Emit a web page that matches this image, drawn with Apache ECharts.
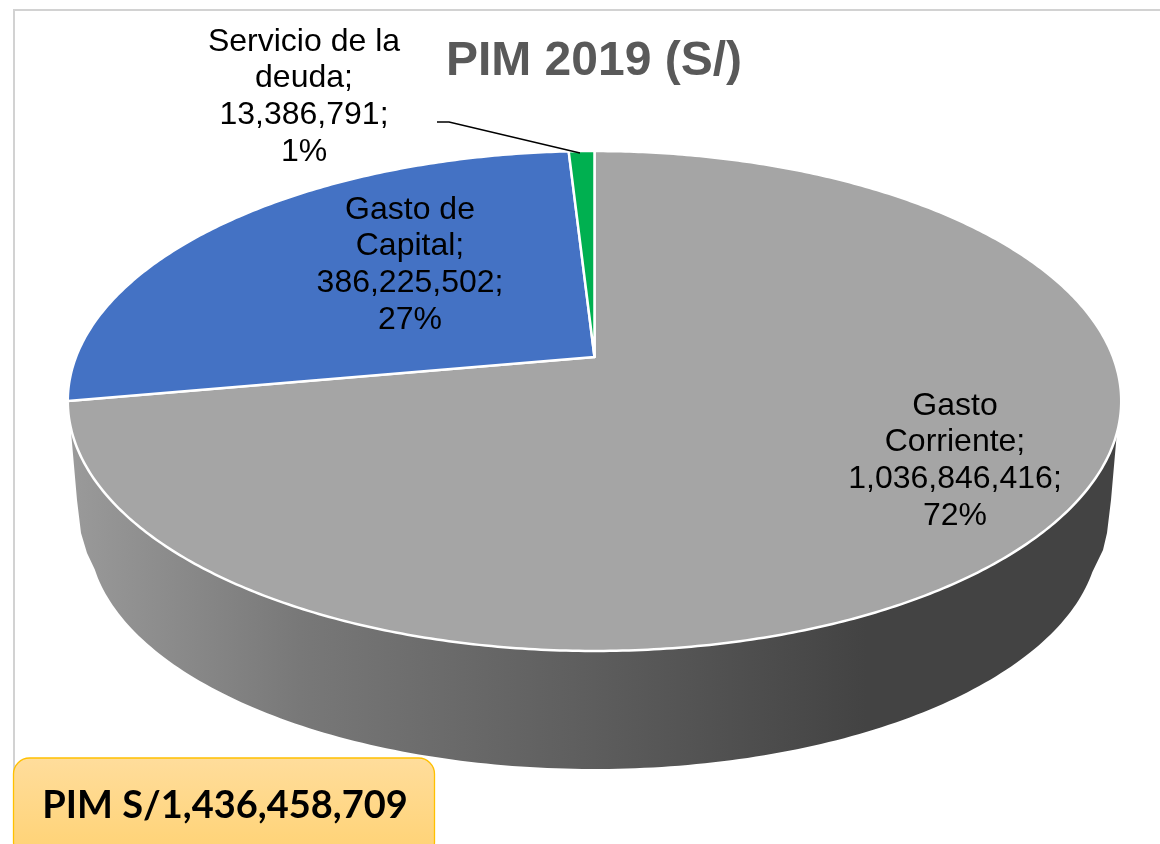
<!DOCTYPE html>
<html><head><meta charset="utf-8">
<style>html,body{margin:0;padding:0;background:#fff}#c{width:1160px;height:844px}</style>
<script src="https://cdn.jsdelivr.net/npm/echarts@6/dist/echarts.min.js"></script>
</head><body><div id="c"></div>
<script>
const categories = ['Gasto Corriente', 'Gasto de Capital', 'Servicio de la deuda'];
const seriesValues = [1036846416, 386225502, 13386791];
const categoryLines = [['Gasto', 'Corriente;'], ['Gasto de', 'Capital;'], ['Servicio de la', 'deuda;']];
const sliceColors = ['#a5a5a5', '#4472c4', '#00b050'];
const titleText = 'PIM 2019 (S/)';
const boxText = 'PIM S/1,436,458,709';

// layout only
const labelCentres = [[955, 461], [410, 265], [304, 97]];
const P = {cx: 594.5, cy: 357, A: 518.5, B: 242.2, k: 0.176};
const BOT = {cx: 594, cy: 534, rx: 505, ry: 235};

function proj(theta) {
  const u = Math.sin(theta), v = Math.cos(theta), d = 1 + P.k * v;
  return [P.cx + P.A * u / d, P.cy - P.B * v / d];
}
const total = seriesValues.reduce((a, b) => a + b, 0);

function renderSlice(params) {
  const i = params.dataIndex;
  let before = 0;
  for (let j = 0; j < i; j++) before += seriesValues[j];
  const a0 = before / total * 2 * Math.PI, a1 = (before + seriesValues[i]) / total * 2 * Math.PI;
  const pts = [[P.cx, P.cy]];
  const n = Math.max(4, Math.ceil((a1 - a0) / 0.01));
  for (let s = 0; s <= n; s++) pts.push(proj(a0 + (a1 - a0) * s / n));
  const text = categoryLines[i].concat([seriesValues[i].toLocaleString('en-US') + ';', Math.round(seriesValues[i] / total * 100) + '%']).join('\n');
  return {type: 'group', children: [
    {type: 'polygon', shape: {points: pts}, z2: 1,
     style: {fill: sliceColors[i], stroke: '#fff', lineWidth: 2.5, lineJoin: 'round'}},
    {type: 'text', z2: 5, style: {text, x: labelCentres[i][0], y: labelCentres[i][1], align: 'center', verticalAlign: 'middle',
      font: '32px "Liberation Sans"', lineHeight: 36.7, fill: '#000'}}
  ]};
}
function renderSide() {
  const pts = [[70, 420], [77, 500], [81, 533], [87, 553]];
  for (let s = 8.7; s <= 171.3; s += 1) {
    const t = Math.PI - s * Math.PI / 180;
    pts.push([BOT.cx + BOT.rx * Math.cos(t), BOT.cy + BOT.ry * Math.sin(t)]);
  }
  pts.push([1103, 550], [1107, 533], [1111, 500], [1118, 420]);
  return {type: 'polygon', shape: {points: pts}, style: {
    fill: new echarts.graphic.LinearGradient(0, 0, 1, 0, [
      {offset: 0, color: '#9a9a9a'},
      {offset: 0.22, color: '#787878'},
      {offset: 0.5, color: '#5d5d5d'},
      {offset: 0.76, color: '#434343'},
      {offset: 1, color: '#434343'}
    ])}};
}

const chart = echarts.init(document.getElementById('c'), null, {renderer: 'canvas'});
chart.setOption({
  animation: false,
  backgroundColor: '#fff',
  title: {text: titleText, left: 589, top: 33, textAlign: 'center',
    textStyle: {fontFamily: 'Liberation Sans', fontWeight: 'bold', fontSize: 48, color: '#595959'}},
  series: [
    {type: 'custom', coordinateSystem: 'none', data: [0], renderItem: renderSide, silent: true, z: 1},
    {type: 'custom', coordinateSystem: 'none', data: categories.map((c, i) => ({name: c, value: seriesValues[i]})),
      renderItem: renderSlice, silent: true, z: 2}
  ],
  graphic: [
    {type: 'polyline', z: 0, silent: true, shape: {points: [[14, 844], [14, 10], [1160, 10]]},
      style: {stroke: '#d2d2d2', lineWidth: 2, fill: null}},
    {type: 'polyline', z: 10, silent: true, shape: {points: [[437, 122], [449, 122], [580, 153]]},
      style: {stroke: '#000', lineWidth: 1.3, fill: null}},
    {type: 'rect', z: 11, silent: true, shape: {x: 13.5, y: 758, width: 421, height: 100, r: 16},
      style: {stroke: '#ffc000', lineWidth: 1.3,
        fill: new echarts.graphic.LinearGradient(0, 0, 0, 1, [{offset: 0, color: '#ffdd9c'}, {offset: 1, color: '#ffd273'}])}},
    {type: 'text', z: 12, silent: true, style: {text: boxText, x: 225, y: 806, align: 'center', verticalAlign: 'middle',
      font: 'bold 38px Lato', fill: '#000'}}
  ]
});
</script></body></html>
